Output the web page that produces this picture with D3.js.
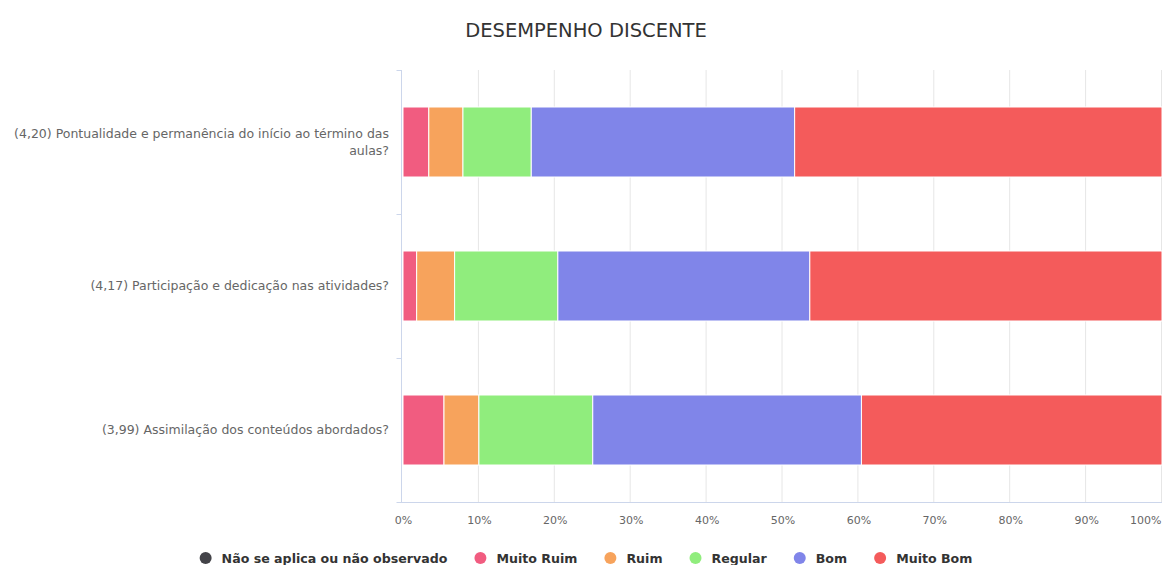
<!DOCTYPE html>
<html>
<head>
<meta charset="utf-8">
<script src="https://cdn.jsdelivr.net/npm/d3@7"></script>
<style>
  body { margin: 0; background: #fff; }
  svg { display: block; font-family: "DejaVu Sans", Verdana, sans-serif; }
</style>
</head>
<body>
<div id="chart"></div>
<script>
// Données (en %)
const categories = [
  '(4,20) Pontualidade e permanência do início ao término das aulas?',
  '(4,17) Participação e dedicação nas atividades?',
  '(3,99) Assimilação dos conteúdos abordados?'
];
const seriesNames = ['Não se aplica ou não observado', 'Muito Ruim', 'Ruim', 'Regular', 'Bom', 'Muito Bom'];
const naoSeAplica = [0, 0, 0];
const muitoRuim   = [3.4, 1.8, 5.4];
const ruim        = [4.5, 5.0, 4.6];
const regular     = [9.0, 13.6, 15.0];
const bom         = [34.7, 33.2, 35.4];
const muitoBom    = [48.4, 46.4, 39.6];
const xTicks      = [0, 10, 20, 30, 40, 50, 60, 70, 80, 90, 100];

const COLORS = ['#434348', '#f15c80', '#f7a35c', '#90ed7d', '#8085e9', '#f45b5b'];
const W = 1164, H = 565;
const m = { top: 70, right: 2, bottom: 63, left: 403 };

const svg = d3.select('#chart').append('svg').attr('width', W).attr('height', H);

// Titre
svg.append('text')
  .attr('x', 586).attr('y', 37)
  .attr('text-anchor', 'middle')
  .style('font-size', '19.5px').style('fill', '#333')
  .text('DESEMPENHO DISCENTE');

const x = d3.scaleLinear().domain([0, 100]).range([m.left, W - m.right]);
const y = d3.scaleBand().domain(categories).range([m.top, H - m.bottom]);

// Grille verticale
svg.append('g')
  .selectAll('line').data(xTicks.slice(1)).join('line')
  .attr('x1', d => x(d) - 0.5).attr('x2', d => x(d) - 0.5)
  .attr('y1', m.top).attr('y2', H - m.bottom)
  .attr('stroke', '#e6e6e6');

// Axe X
const xAxis = svg.append('g')
  .attr('transform', `translate(0,${H - m.bottom + 0.5})`)
  .call(d3.axisBottom(x).tickValues(xTicks).tickSize(0).tickPadding(14).tickFormat(d => d + '%'));
xAxis.select('.domain').attr('stroke', '#ccd6eb').attr('d', `M${m.left - 2},0H${W - m.right}`);
xAxis.selectAll('text').style('fill', '#666').style('font-size', '11px').style('font-family', 'DejaVu Sans, sans-serif');
xAxis.selectAll('.tick').filter(d => d === 100).select('text').attr('text-anchor', 'end').attr('dx', '-1');

// Axe Y (catégories)
const yAxisX = m.left - 1.5;
svg.append('line')
  .attr('x1', yAxisX).attr('x2', yAxisX)
  .attr('y1', m.top).attr('y2', H - m.bottom)
  .attr('stroke', '#ccd6eb');
const bounds = [m.top].concat(categories.map(c => y(c) + y.bandwidth()));
svg.append('g').selectAll('line').data(bounds).join('line')
  .attr('x1', yAxisX - 5).attr('x2', yAxisX)
  .attr('y1', d => Math.round(d) + 0.5).attr('y2', d => Math.round(d) + 0.5)
  .attr('stroke', '#ccd6eb');

// Libellés des catégories avec retour à la ligne
const labels = svg.append('g');
categories.forEach(c => {
  const t = labels.append('text')
    .attr('text-anchor', 'end')
    .style('font-size', '12.5px').style('fill', '#666');
  const words = c.split(' ');
  const lines = [];
  let cur = '';
  const probe = t.append('tspan');
  words.forEach(w => {
    const test = cur ? cur + ' ' + w : w;
    probe.text(test);
    if (probe.node().getComputedTextLength() > 385 && cur) { lines.push(cur); cur = w; }
    else cur = test;
  });
  lines.push(cur);
  probe.remove();
  const cy = y(c) + y.bandwidth() / 2;
  const lh = 17;
  const y0 = cy - (lines.length - 1) * lh / 2 + 4;
  lines.forEach((l, i) => {
    t.append('tspan').attr('x', 389).attr('y', y0 + i * lh).text(l);
  });
});

// Barres empilées
const table = categories.map((c, i) => ({
  cat: c,
  [seriesNames[0]]: naoSeAplica[i],
  [seriesNames[1]]: muitoRuim[i],
  [seriesNames[2]]: ruim[i],
  [seriesNames[3]]: regular[i],
  [seriesNames[4]]: bom[i],
  [seriesNames[5]]: muitoBom[i]
}));
const stacked = d3.stack().keys(seriesNames)(table);
const barH = 70;

svg.append('g').selectAll('g').data(stacked).join('g')
  .attr('fill', (d, i) => COLORS[i])
  .selectAll('rect').data(d => d.filter(p => p[1] - p[0] > 0)).join('rect')
  .attr('x', p => x(p[0]))
  .attr('width', p => x(p[1]) - x(p[0]))
  .attr('y', p => y(p.data.cat) + (y.bandwidth() - barH) / 2)
  .attr('height', barH)
  .attr('stroke', '#fff').attr('stroke-width', 1);

// Légende
const legend = svg.append('g').attr('transform', 'translate(0,563)');
let lx = 0;
const items = [];
seriesNames.forEach((n, i) => {
  const g = legend.append('g');
  g.append('circle').attr('cx', 6).attr('cy', -5).attr('r', 6).attr('fill', COLORS[i]);
  const tx = g.append('text').attr('x', 22).attr('y', 0)
    .style('font-size', '12.6px').style('font-weight', 'bold').style('fill', '#333').text(n);
  const w = 22 + tx.node().getComputedTextLength();
  items.push({ g, lx });
  lx += w + 27;
});
const totalW = lx - 27;
const startX = 586 - totalW / 2;
items.forEach(it => it.g.attr('transform', `translate(${startX + it.lx},0)`));
</script>
</body>
</html>
